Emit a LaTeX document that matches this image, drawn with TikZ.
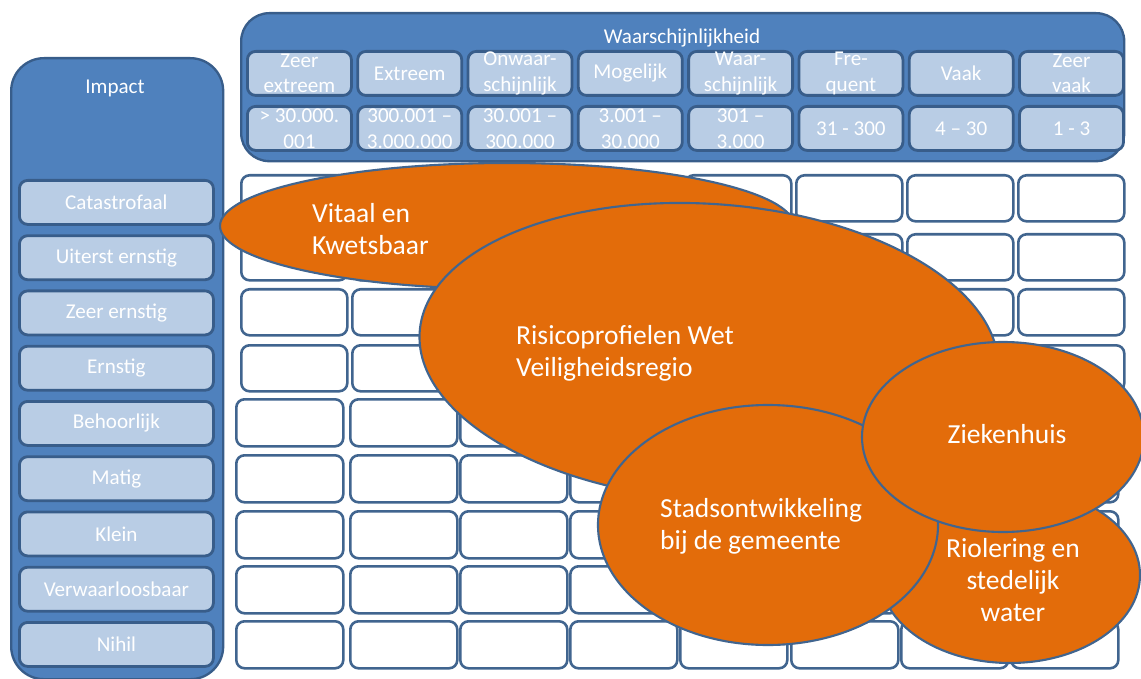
\documentclass[tikz,border=0pt]{standalone}
\usepackage{fontspec}
\setmainfont{Carlito}
\usetikzlibrary{shapes.geometric}
\definecolor{hdblue}{HTML}{4F81BD}
\definecolor{dkblue}{HTML}{385D8A}
\definecolor{ltblue}{HTML}{B9CDE5}
\definecolor{gridln}{HTML}{41658F}
\definecolor{orng}{HTML}{E36C0A}

\begin{document}
\begin{tikzpicture}[
  font=\fontsize{18}{22}\selectfont, x=0.03cm, y=-0.03cm,
  line join=round,
  frame/.style={draw=dkblue, fill=hdblue, line width=2pt, inner sep=0pt,
                anchor=north west},
  ttl/.style={text=white, inner sep=0pt},
  lbl/.style={draw=dkblue, fill=ltblue, line width=2.4pt, rounded corners=7pt,
              text=white, align=center, inner sep=0pt, anchor=north west},
  hcell/.style={lbl, minimum width=3.12cm, minimum height=1.32cm},
  icell/.style={lbl, minimum width=5.82cm, minimum height=1.32cm},
  cell/.style={draw=gridln, fill=white, line width=2.2pt, rounded corners=7pt,
               anchor=north west, inner sep=0pt},
  ucell/.style={cell, minimum width=3.18cm, minimum height=1.38cm},
  dcell/.style={cell, minimum width=3.21cm, minimum height=1.41cm},
  blob/.style={ellipse, draw=gridln, fill=orng, line width=1.8pt, inner sep=0pt},
  btxt/.style={text=white, font=\fontsize{23.5}{27.5}\selectfont, inner sep=0pt},
]
\useasboundingbox (0,0) rectangle (1141,679);

% outer frames
\node[frame, rounded corners=24pt, minimum width=26.49cm, minimum height=4.44cm] (wsh) at (240,12) {};
\node[frame, rounded corners=28pt, minimum width=6.36cm, minimum height=18.63cm] (imp) at (10,57) {};
\node[ttl] (wtit) at (682,38) {Waarschijnlijkheid};
\node[ttl] (itit) at (115,88) {Impact};

% likelihood classes
\node[hcell] (h1) at (246.0,50) {Zeer\\extreem};
\node[hcell] (h2) at (356.3,50) {Extreem};
\node[hcell] (h3) at (466.6,50) {Onwaar-\\schijnlijk};
\node[hcell] (h4) at (576.9,50) {Mogelijk};
\node[hcell] (h5) at (687.2,50) {Waar-\\schijnlijk};
\node[hcell] (h6) at (797.5,50) {Fre-\\quent};
\node[hcell] (h7) at (907.8,50) {Vaak};
\node[hcell] (h8) at (1018.1,50) {Zeer\\vaak};

\node[hcell] (f1) at (246.0,105) {> 30.000.\\001};
\node[hcell] (f2) at (356.3,105) {300.001 –\\3.000.000};
\node[hcell] (f3) at (466.6,105) {30.001 –\\300.000};
\node[hcell] (f4) at (576.9,105) {3.001 –\\30.000};
\node[hcell] (f5) at (687.2,105) {301 –\\3.000};
\node[hcell] (f6) at (797.5,105) {31 - 300};
\node[hcell] (f7) at (907.8,105) {4 – 30};
\node[hcell] (f8) at (1018.1,105) {1 - 3};

% impact classes
\node[icell] (i1) at (18,179.0) {Catastrofaal};
\node[icell] (i2) at (18,234.3) {Uiterst ernstig};
\node[icell] (i3) at (18,289.5) {Zeer ernstig};
\node[icell] (i4) at (18,344.8) {Ernstig};
\node[icell] (i5) at (18,400.0) {Behoorlijk};
\node[icell] (i6) at (18,455.3) {Matig};
\node[icell] (i7) at (18,510.5) {Klein};
\node[icell] (i8) at (18,565.8) {Verwaarloosbaar};
\node[icell] (i9) at (18,621.0) {Nihil};

% empty matrix
\foreach \r/\ty in {1/174,2/233,3/288,4/344}
  \foreach \c/\tx in {1/240,2/351,3/462,4/573,5/684,6/795,7/906,8/1017}
    \node[ucell] (u\r\c) at (\tx,\ty) {};
\foreach \r/\ty in {5/398,6/454,7/510,8/565,9/620}
  \foreach \c/\tx in {1/235,2/349,3/459,4/569,5/679,6/790,7/900,8/1010}
    \node[dcell] (d\r\c) at (\tx,\ty) {};

% risk domains
\node[blob, minimum width=17.22cm, minimum height=3.78cm] (vit) at (507,226) {};
\node[btxt, anchor=west, align=left] (vitt) at (312,229) {Vitaal en\\Kwetsbaar};

\node[blob, rotate=-4, minimum width=17.4cm, minimum height=8.88cm] (ris) at (709,352) {};
\node[btxt, anchor=west, align=left] (rist) at (516,353) {Risicoprofielen Wet\\Veiligheidsregio};

\node[blob, minimum width=7.8cm, minimum height=5.28cm] (rio) at (1010,575) {};
\node[btxt, align=center] (riot) at (1013,580) {Riolering en\\stedelijk\\water};

\node[blob, minimum width=10.2cm, minimum height=7.2cm] (sta) at (768,525) {};
\node[btxt, anchor=west, align=left] (stat) at (660,526) {Stadsontwikkeling\\bij de gemeente};

\node[blob, minimum width=8.46cm, minimum height=5.7cm] (zie) at (1003,437) {};
\node[btxt] (ziet) at (1007,434) {Ziekenhuis};
\end{tikzpicture}
\end{document}
